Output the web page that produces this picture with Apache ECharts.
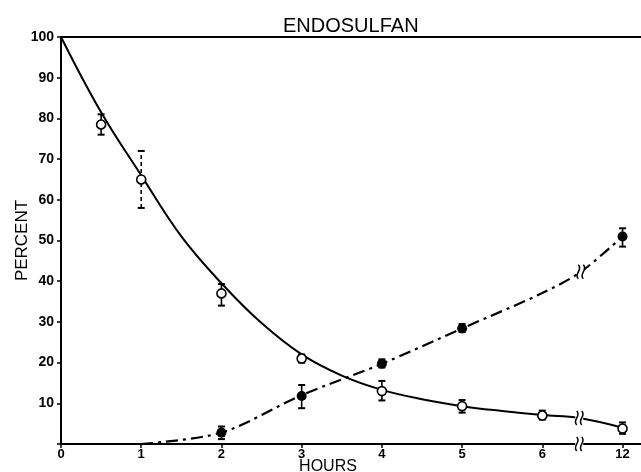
<!DOCTYPE html>
<html><head><meta charset="utf-8">
<script src="https://cdn.jsdelivr.net/npm/echarts@6/dist/echarts.min.js"></script>
<style>html,body{margin:0;padding:0;background:#fff}#c{width:641px;height:472px}</style>
</head><body><div id="c"></div>
<script>
// ---- data ----
const tickValues = [0, 1, 2, 3, 4, 5, 6, 7];
const tickLabels = ['0', '1', '2', '3', '4', '5', '6', '12'];

const openX = [0.5, 1, 2, 3, 4, 5, 6, 7];
const openY = [78.5, 65, 37, 21, 13, 9.3, 7, 3.8];
const openLow = [76, 58, 34, 20, 10.7, 7.7, 6, 2.5];
const openHigh = [81, 72, 39.3, 22, 15.5, 10.8, 8.2, 5.3];

const filledX = [2, 3, 4, 5, 7];
const filledY = [2.8, 11.8, 19.7, 28.4, 51];
const filledLow = [1.2, 8.8, 18.8, 27.5, 48.5];
const filledHigh = [4.3, 14.5, 20.8, 29.5, 53];

const decayCurveX = [0, 0.5, 1, 1.5, 2, 2.5, 3, 3.5, 4, 4.5, 5, 5.5, 6, 6.46, 7];
const decayCurveY = [100, 81.5, 66, 51, 39.5, 29.7, 22, 16.8, 13.3, 11, 9.3, 8.1, 7.1, 6.4, 4];
const riseCurveX = [1, 2, 3, 4, 5, 6, 6.48, 7];
const riseCurveY = [0, 2.8, 12, 19.7, 28.4, 37.1, 42.3, 51];

const breakX = [6.46, 6.48, 6.46];
const breakY = [6.4, 42.3, 0];
const dashedErrorAtX = 1;

const zip = (a, b) => a.map((v, i) => [v, b[i]]);

const chart = echarts.init(document.getElementById('c'));
const FONT = 'Liberation Sans';

function errorBar(params, api) {
  const x = api.value(0);
  const lo = api.coord([x, api.value(1)]);
  const hi = api.coord([x, api.value(2)]);
  const dashed = params.seriesName === 'openErr' && x === dashedErrorAtX;
  const style = { stroke: '#000', lineWidth: 1.6, lineDash: dashed ? [4, 3] : null };
  const cap = 3.5;
  return { type: 'group', children: [
    { type: 'line', shape: { x1: lo[0], y1: lo[1], x2: hi[0], y2: hi[1] }, style: style },
    { type: 'line', shape: { x1: lo[0] - cap, y1: lo[1], x2: lo[0] + cap, y2: lo[1] }, style: { stroke: '#000', lineWidth: 2 } },
    { type: 'line', shape: { x1: hi[0] - cap, y1: hi[1], x2: hi[0] + cap, y2: hi[1] }, style: { stroke: '#000', lineWidth: 2 } }
  ]};
}

function breakMark(params, api) {
  const p = api.coord([api.value(0), api.value(1)]);
  const x = p[0], y = p[1];
  const s = (dx) => ({ type: 'bezierCurve', shape: {
      x1: x + dx, y1: y - 7, cpx1: x + dx + 5, cpy1: y - 2, cpx2: x + dx - 5, cpy2: y + 2, x2: x + dx, y2: y + 7 },
      style: { stroke: '#000', fill: null, lineWidth: 1.5 } });
  return { type: 'group', children: [
    { type: 'rect', shape: { x: x - 4, y: y - 5, width: 8, height: 10 }, style: { fill: '#fff' } },
    s(-2.5), s(2.5)
  ]};
}

chart.setOption({
  animation: false,
  backgroundColor: '#fff',
  title: { text: 'ENDOSULFAN', left: 278, top: 11,
    textStyle: { fontFamily: FONT, fontSize: 20, fontWeight: 'normal', color: '#000' } },
  grid: { left: 61, right: 0, top: 37, bottom: 28, containLabel: false, outerBoundsMode: 'none' },
  xAxis: [{
    type: 'value', min: 0, max: 7.23, position: 'bottom',
    name: 'HOURS', nameLocation: 'middle', nameGap: 15, nameMoveOverlap: false,
    nameTextStyle: { fontFamily: FONT, fontSize: 16, color: '#000', padding: [0, 46, 0, 0] },
    axisLine: { onZero: false, lineStyle: { color: '#000', width: 2 } },
    axisTick: { customValues: tickValues, length: 4, lineStyle: { color: '#000', width: 1.5 } },
    axisLabel: { customValues: tickValues, formatter: v => tickLabels[tickValues.indexOf(v)] ?? '',
      fontFamily: FONT, fontSize: 13, fontWeight: 'bold', color: '#000', margin: 4 },
    splitLine: { show: false }
  }, {
    type: 'value', min: 0, max: 7.23, position: 'top',
    axisLine: { onZero: false, lineStyle: { color: '#000', width: 2 } },
    axisTick: { show: false }, axisLabel: { show: false }, splitLine: { show: false }
  }],
  yAxis: {
    type: 'value', min: 0, max: 100, interval: 10,
    name: 'PERCENT', nameLocation: 'middle', nameGap: 30, nameMoveOverlap: false,
    nameTextStyle: { fontFamily: FONT, fontSize: 17, color: '#000' },
    axisLine: { onZero: false, lineStyle: { color: '#000', width: 2 } },
    axisTick: { length: 4, lineStyle: { color: '#000', width: 1.5 } },
    axisLabel: { formatter: v => v === 0 ? '' : String(v), fontFamily: FONT, fontSize: 14,
      fontWeight: 'bold', color: '#000', margin: 7 },
    splitLine: { show: false }
  },
  series: [
    { name: 'decayCurve', type: 'line', data: zip(decayCurveX, decayCurveY), smooth: 0.4,
      showSymbol: false, lineStyle: { color: '#000', width: 2 }, z: 2 },
    { name: 'riseCurve', type: 'line', data: zip(riseCurveX, riseCurveY), smooth: 0.3,
      showSymbol: false, lineStyle: { color: '#000', width: 2.2, type: [12, 5, 3, 5] }, z: 2 },
    { name: 'breaks', type: 'custom', renderItem: breakMark, data: zip(breakX, breakY), clip: false, z: 3 },
    { name: 'openErr', type: 'custom', renderItem: errorBar,
      data: openX.map((x, i) => [x, openLow[i], openHigh[i]]), z: 4 },
    { name: 'filledErr', type: 'custom', renderItem: errorBar,
      data: filledX.map((x, i) => [x, filledLow[i], filledHigh[i]]), z: 4 },
    { name: 'open', type: 'scatter', data: zip(openX, openY), symbol: 'circle', symbolSize: 9,
      itemStyle: { color: '#fff', borderColor: '#000', borderWidth: 1.6, opacity: 1 }, z: 5 },
    { name: 'filled', type: 'scatter', data: zip(filledX, filledY), symbol: 'circle', symbolSize: 10,
      itemStyle: { color: '#000', opacity: 1 }, z: 5 }
  ]
});
</script></body></html>
